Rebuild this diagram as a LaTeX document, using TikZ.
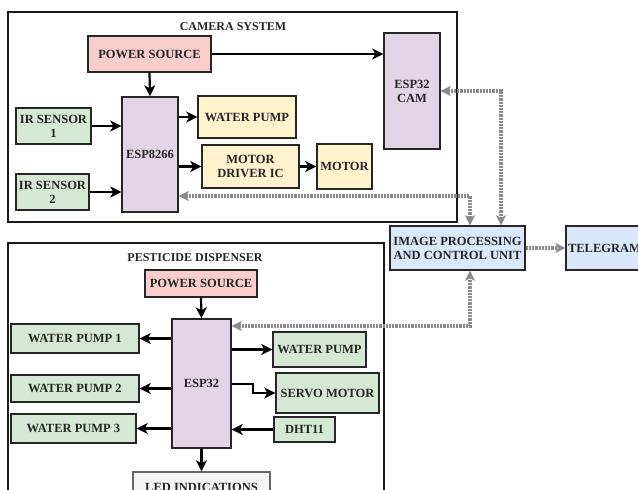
\documentclass[tikz,border=0pt]{standalone}
\usepackage{fontspec}
\setmainfont{Liberation Serif}
\usetikzlibrary{arrows.meta}
\definecolor{pinkf}{HTML}{F8CECC}
\definecolor{purf}{HTML}{E1D5E7}
\definecolor{greenf}{HTML}{D5E8D4}
\definecolor{yelf}{HTML}{FFF2CC}
\definecolor{bluef}{HTML}{DAE8FC}
\definecolor{ledf}{HTML}{F5F5F5}
\definecolor{gcon}{HTML}{8A8A8A}
\begin{document}
\begin{tikzpicture}[x=1pt,y=-1pt,
  blk/.style={draw=black!85, line width=1.4pt, font=\fontsize{12.5}{14}\selectfont\bfseries, align=center, inner sep=0pt, text=black!85},
  container/.style={draw=black!90, line width=1.3pt, inner sep=0pt},
  ttl/.style={font=\fontsize{12}{14}\selectfont\bfseries, text=black!85},
  arr/.style={draw=black, line width=2.2pt, -{Stealth[length=11pt,width=11pt,inset=3pt]}},
  garr/.style={draw=gcon, line width=3.4pt, dash pattern=on 2.2pt off 1pt, {Stealth[length=10pt,width=10pt,inset=2.5pt]}-{Stealth[length=10pt,width=10pt,inset=2.5pt]}},
  garr1/.style={draw=gcon, line width=3.4pt, dash pattern=on 2.2pt off 1pt, -{Stealth[length=10pt,width=10pt,inset=2.5pt]}}
]
\path[use as bounding box, clip] (0,0) rectangle (638,490);
\fill[white] (0,0) rectangle (638,490);
% containers
\node[container, minimum width=449pt, minimum height=210pt] (camsys) at (232.5,117) {};
\node[ttl] (camttl) at (233,27) {CAMERA SYSTEM};
\node[container, minimum width=376pt, minimum height=257pt] (pestsys) at (196,371.5) {};
\node[ttl] (pestttl) at (195,258) {PESTICIDE DISPENSER};
% camera system nodes
\node[blk, fill=pinkf, minimum width=123pt, minimum height=36pt] (ps1) at (149.5,54) {POWER SOURCE};
\node[blk, fill=purf, minimum width=56pt, minimum height=115pt] (esp8266) at (150,154.5) {ESP8266};
\node[blk, fill=greenf, minimum width=75pt, minimum height=36pt] (ir1) at (53.5,126) {IR SENSOR\\1};
\node[blk, fill=greenf, minimum width=73pt, minimum height=36pt] (ir2) at (52.5,192) {IR SENSOR\\2};
\node[blk, fill=yelf, minimum width=98pt, minimum height=42pt] (wp) at (247,117) {WATER PUMP};
\node[blk, fill=yelf, minimum width=97pt, minimum height=43pt] (mdi) at (250.5,166.5) {MOTOR\\DRIVER IC};
\node[blk, fill=yelf, minimum width=55pt, minimum height=45pt] (motor) at (344.5,166.5) {MOTOR};
\node[blk, fill=purf, minimum width=56pt, minimum height=116pt] (cam) at (412,91) {ESP32\\CAM};
% central
\node[blk, fill=bluef, minimum width=135pt, minimum height=44pt] (ipcu) at (457.5,248) {IMAGE PROCESSING\\AND CONTROL UNIT};
\node[blk, fill=bluef, minimum width=77pt, minimum height=44pt] (tele) at (604.5,248) {TELEGRAM};
% pesticide nodes
\node[blk, fill=pinkf, minimum width=112pt, minimum height=27pt] (ps2) at (201,283.5) {POWER SOURCE};
\node[blk, fill=purf, minimum width=59pt, minimum height=129pt] (esp32) at (201.5,383.5) {ESP32};
\node[blk, fill=greenf, minimum width=128pt, minimum height=29pt] (wp1) at (75,338.5) {WATER PUMP 1};
\node[blk, fill=greenf, minimum width=128pt, minimum height=27pt] (wp2) at (75,388.5) {WATER PUMP 2};
\node[blk, fill=greenf, minimum width=125pt, minimum height=29pt] (wp3) at (73.5,428.5) {WATER PUMP 3};
\node[blk, fill=greenf, minimum width=93pt, minimum height=35pt] (wpr) at (319.5,349.5) {WATER PUMP};
\node[blk, fill=greenf, minimum width=103pt, minimum height=40pt] (servo) at (327.5,393) {SERVO MOTOR};
\node[blk, fill=greenf, minimum width=61pt, minimum height=25pt] (dht) at (304.5,429.5) {DHT11};
\node[blk, draw=black!60, fill=ledf, minimum width=137pt, minimum height=30pt] (led) at (201.5,487) {LED INDICATIONS};
% camera arrows
\draw[arr] (ps1.south) -- (esp8266.north);
\draw[arr] (ps1.east) -- (cam.west |- ps1.east);
\draw[arr] (ir1.east) -- (esp8266.west |- ir1.east);
\draw[arr] (ir2.east) -- (esp8266.west |- ir2.east);
\draw[arr] (esp8266.east |- wp.west) -- (wp.west);
\draw[arr] (esp8266.east |- mdi.west) -- (mdi.west);
\draw[arr] (mdi.east) -- (motor.west);
% gray links
\draw[garr] (esp8266.east |- 0,196) -| (ipcu.north -| 470,0);
\draw[garr] (cam.east |- 0,91) -| (ipcu.north -| 501,0);
\draw[garr1] (ipcu.east) -- (tele.west);
\draw[garr] (esp32.east |- 0,326) -| (ipcu.south -| 470,0);
% pesticide arrows
\draw[arr] (ps2.south) -- (esp32.north);
\draw[arr] (esp32.west |- wp1.east) -- (wp1.east);
\draw[arr] (esp32.west |- wp2.east) -- (wp2.east);
\draw[arr] (esp32.west |- wp3.east) -- (wp3.east);
\draw[arr] (esp32.east |- wpr.west) -- (wpr.west);
\draw[arr] (esp32.east |- 0,384) -- (253,384) |- (servo.west);
\draw[arr] (dht.west) -- (esp32.east |- dht.west);
\draw[arr] (esp32.south) -- (led.north);
\end{tikzpicture}
\end{document}
